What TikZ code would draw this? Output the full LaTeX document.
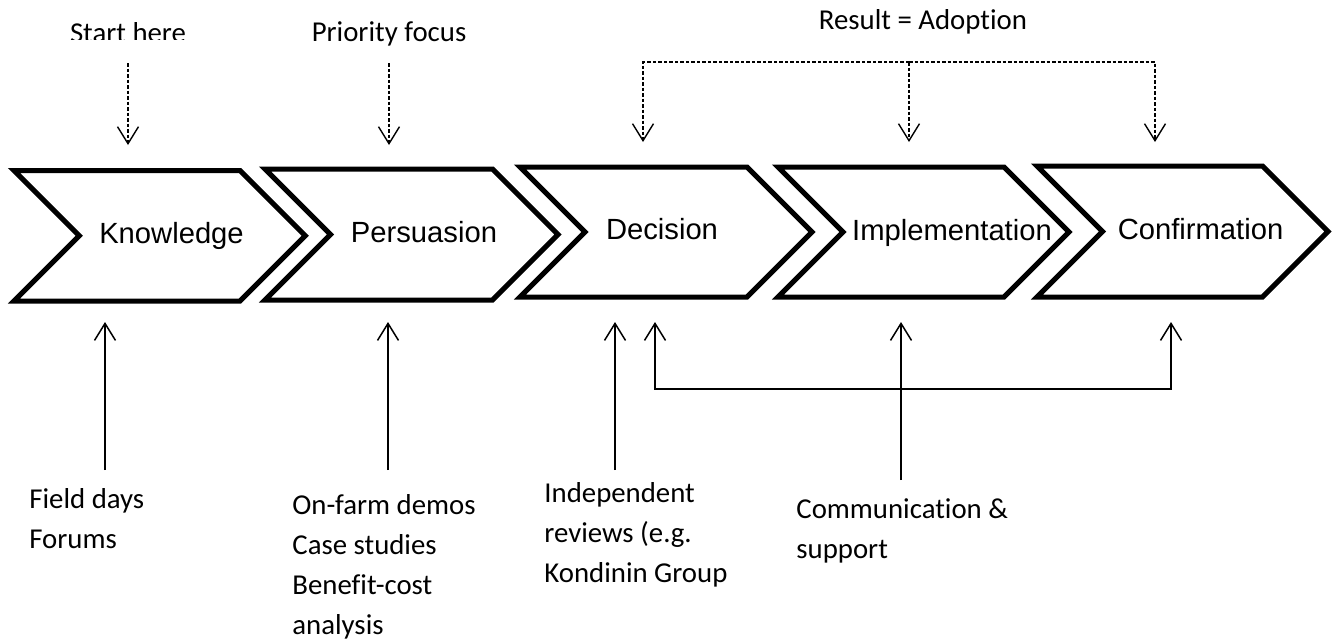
\documentclass[tikz,border=0pt]{standalone}
\usepackage{fontspec}
\setmainfont{Carlito}[Ligatures=NoCommon]
\newfontfamily\arialf{Liberation Sans}
\usetikzlibrary{arrows.meta}
\newcommand\mychev[4]{% left, top, depth, width
  \draw[chev] (#1,#2) -- ++(#4,0) -- ++(#3,#3) -- ++(-#3,#3) -- ++(-#4,0) -- ++(#3,-#3) -- cycle;}
\begin{document}
\begin{tikzpicture}[x=0.5pt,y=-0.5pt,
  chev/.style={draw=black, line width=2.5pt, line join=miter, miter limit=10, fill=white},
  lab/.style={font=\arialf\fontsize{14.6pt}{17pt}\selectfont, inner sep=0pt, anchor=base},
  tl/.style={font=\fontsize{14.4pt}{20pt}\selectfont, inner sep=0pt, anchor=base},
  cal/.style={font=\fontsize{14.4pt}{20pt}\selectfont, inner sep=0pt, anchor=base west},
  barb/.tip={Straight Barb[length=8.5pt,width=10.5pt]},
  up/.style={line width=0.75pt, -barb},
  dn/.style={line width=0.7pt, dash pattern=on 1.75pt off 1pt, -barb}]
\useasboundingbox (0,0) rectangle (1336,643);
\fill[white] (0,0) rectangle (1336,643);

% chevrons
\mychev{14}{170.5}{65.25}{226}
\mychev{265}{169}{65.5}{227.5}
\mychev{520}{167}{65}{227}
\mychev{778}{167}{65}{226}
\mychev{1037}{166}{65.5}{225.5}

\node[lab] (know) at (171.5,243) {Knowledge};
\node[lab] (pers) at (424,242) {Persuasion};
\node[lab] (deci) at (662,239) {Decision};
\node[lab] (impl) at (952,240) {Implementation};
\node[lab] (conf) at (1200.5,239) {Confirmation};

% top labels
\begin{scope}
  \clip (0,0) rectangle (260,39.5);
  \node[tl] (start) at (128,42.5) {Start here};
\end{scope}
\node[tl] (prio) at (389,41) {Priority focus};
\node[tl] (res) at (923,29) {Result = Adoption};

% dashed arrows
\coordinate (s1) at (128,63);  \coordinate (s2) at (128,145);
\coordinate (p1) at (389,63);  \coordinate (p2) at (389,145);
\draw[dn] (s1) -- (s2);
\draw[dn] (p1) -- (p2);
\coordinate (rl) at (643,62);  \coordinate (rm) at (909,62);  \coordinate (rr) at (1155,62);
\coordinate (rle) at (643,142); \coordinate (rme) at (909,142); \coordinate (rre) at (1155,142);
\draw[dn] (rm) -- (rl) -- (rle);
\draw[dn] (rm) -- (rr) -- (rre);
\draw[dn] (rm) -- (rme);

% bottom arrows
\coordinate (fa) at (105,470); \coordinate (fb) at (105,322);
\coordinate (oa) at (388,470); \coordinate (ob) at (388,322);
\coordinate (ia) at (615,470); \coordinate (ib) at (615,322);
\coordinate (ca) at (901,480); \coordinate (cb) at (901,322);
\coordinate (bl) at (655,389); \coordinate (br) at (1171,389);
\coordinate (blt) at (655,322); \coordinate (brt) at (1171,322);
\draw[up] (fa) -- (fb);
\draw[up] (oa) -- (ob);
\draw[up] (ia) -- (ib);
\draw[line width=0.75pt, barb-barb] (blt) -- (bl) -- (br) -- (brt);
\draw[up] (ca) -- (cb);

% bottom texts
\node[cal] (fd) at (29,508) {\begin{tabular}[t]{@{}l@{}}Field days\\Forums\end{tabular}};
\node[cal] (of) at (292,514) {\begin{tabular}[t]{@{}l@{}}On-farm demos\\Case studies\\Benefit-cost\\analysis\end{tabular}};
\node[cal] (ir) at (544,502) {\begin{tabular}[t]{@{}l@{}}Independent\\reviews (e.g.\\Kondinin Group\end{tabular}};
\node[cal] (cs) at (796,518) {\begin{tabular}[t]{@{}l@{}}Communication \&\\support\end{tabular}};
\end{tikzpicture}
\end{document}
